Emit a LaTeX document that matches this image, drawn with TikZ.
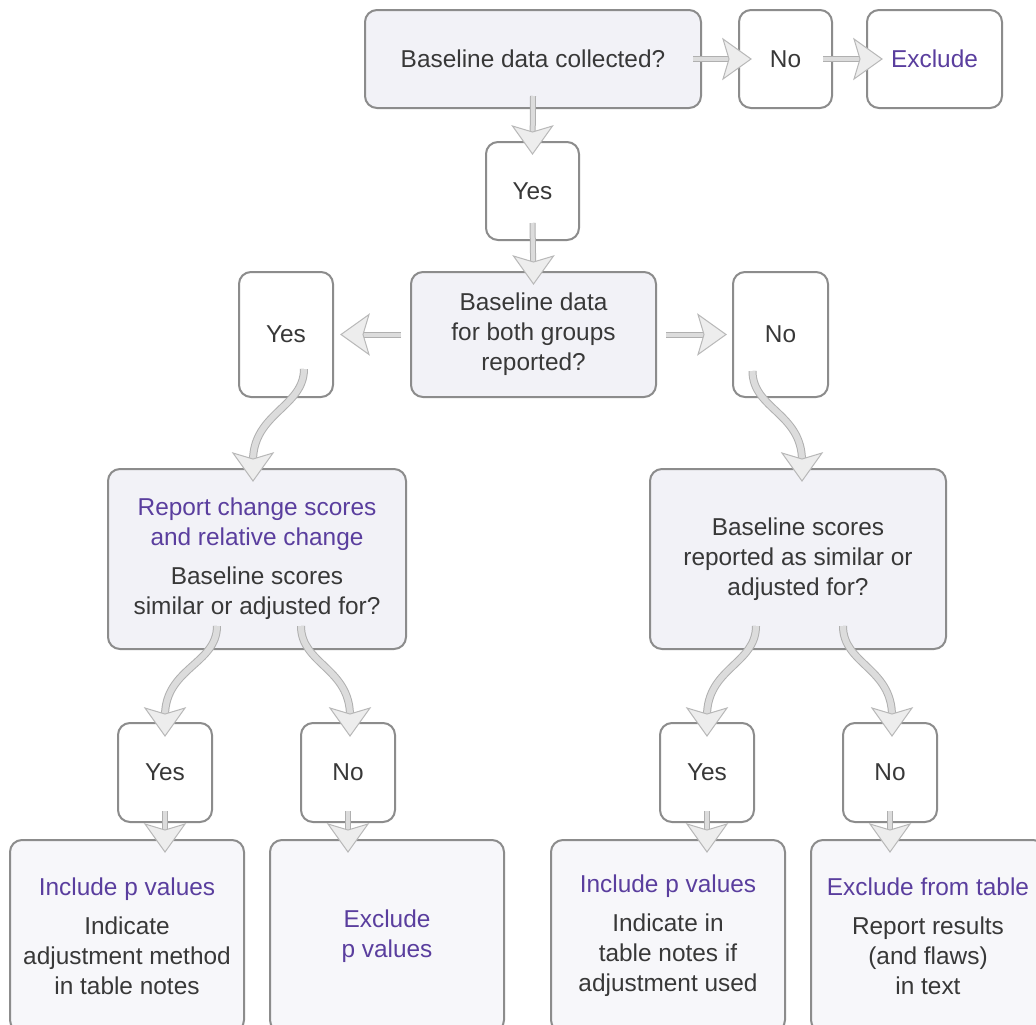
\documentclass[tikz,border=0pt]{standalone}
\usepackage{fontspec}
\setmainfont{Liberation Sans}
\usetikzlibrary{calc}
\definecolor{txt}{HTML}{383838}
\definecolor{purp}{HTML}{5A3E9E}
\definecolor{bord}{HTML}{8C8C8C}
\definecolor{lav}{HTML}{F2F2F7}
\definecolor{lav2}{HTML}{F7F7FA}
\definecolor{shaftb}{HTML}{B0B0B0}
\definecolor{shaftf}{HTML}{DCDCDC}
\definecolor{headf}{HTML}{EDEDED}
\definecolor{headb}{HTML}{B8B8B8}
\newcommand\sarr[3]{\draw[shaft] (#1) -- ($(#2)!15pt!(#1)$); \path (#2) pic[rotate=#3]{bhead};}
\newcommand\carr[2]{\draw[shaft, double distance=4.5pt] (#1) .. controls ($(#1)+(0,38)$) and ($(#2)+(0,-68)$) .. ($(#2)+(0,-20)$); \path (#2) pic[rotate=-90]{bhead};}
\begin{document}
\begin{tikzpicture}[x=0.75pt,y=-0.75pt,
 box/.style={draw=bord, line width=1.5pt, rounded corners=9pt, inner sep=0pt, align=center, text=txt, font=\fontsize{18.3}{22.5}\selectfont},
 sz/.style 2 args={minimum width=#1*0.75pt, minimum height=#2*0.75pt},
 qbox/.style={box, fill=lav},
 abox/.style={box, fill=white},
 rbox/.style={box, fill=lav2},
 shaft/.style={draw=shaftb, line width=0.75pt, double=shaftf, double distance=3pt},
 bhead/.pic={\filldraw[fill=headf, draw=headb, line width=0.75pt, line join=miter] (0,0) -- (-28,20) -- (-22,0) -- (-28,-20) -- cycle;}
]
\useasboundingbox (0,0) rectangle (1036,1025);
\clip (0,0) rectangle (1036,1025);
\fill[white] (0,0) rectangle (1036,1025);

\node[qbox, sz={336}{98}] (top) at (533,59) {Baseline data collected?};
\node[abox, sz={93}{98}] (no1) at (785.5,59) {No};
\node[abox, sz={135}{98}, text=purp] (excl) at (934.5,59) {Exclude};
\node[abox, sz={93}{98}] (yes1) at (532.5,191) {Yes};
\node[qbox, sz={245}{125}] (both) at (533.5,334.5) {Baseline data\\for both groups\\reported?};
\node[abox, sz={94}{125}] (yesL) at (286,334.5) {Yes};
\node[abox, sz={95}{125}] (noR) at (780.5,334.5) {No};
\node[qbox, sz={298}{180}] (rep) at (257,559) {\textcolor{purp}{Report change scores}\\\textcolor{purp}{and relative change}\\[6.75pt]Baseline scores\\similar or adjusted for?};
\node[qbox, sz={296}{180}] (bs) at (798,559) {Baseline scores\\reported as similar or\\adjusted for?};
\node[abox, sz={94}{99}] (yLL) at (165,772.5) {Yes};
\node[abox, sz={94}{99}] (nLR) at (348,772.5) {No};
\node[abox, sz={94}{99}] (yRL) at (707,772.5) {Yes};
\node[abox, sz={94}{99}] (nRR) at (890,772.5) {No};
\node[rbox, sz={234}{192}] (inc1) at (127,936) {\textcolor{purp}{Include p values}\\[6.75pt]Indicate\\adjustment method\\in table notes};
\node[rbox, sz={234}{192}, text=purp] (exp) at (387,936) {Exclude\\p values};
\node[rbox, sz={234}{192}] (inc2) at (668,936) {\textcolor{purp}{Include p values}\\[6.75pt]Indicate in\\table notes if\\adjustment used};
\node[rbox, sz={234}{192}] (exct) at (928,936) {\textcolor{purp}{Exclude from table}\\[6.75pt]Report results\\(and flaws)\\in text};

% connector end points
\coordinate (s1) at ($(top.south)+(0,-13)$);   \coordinate (t1) at ($(yes1.north)+(0,13)$);
\coordinate (s2) at ($(top.east)+(-9,0)$);     \coordinate (t2) at ($(no1.west)+(13,0)$);
\coordinate (s3) at ($(no1.east)+(-10,0)$);    \coordinate (t3) at ($(excl.west)+(16,0)$);
\coordinate (s4) at ($(yes1.south)+(0,-18)$);  \coordinate (t4) at ($(both.north)+(0,13)$);
\coordinate (s5) at ($(both.west)+(-9,0)$);    \coordinate (t5) at ($(yesL.east)+(7,0)$);
\coordinate (s6) at ($(both.east)+(9,0)$);     \coordinate (t6) at ($(noR.west)+(-6,0)$);
\coordinate (s7) at ($(yesL.south)+(18,-29)$); \coordinate (t7) at ($(rep.north)+(-4,13)$);
\coordinate (s8) at ($(noR.south)+(-28,-27)$); \coordinate (t8) at ($(bs.north)+(4,13)$);
\coordinate (s9) at ($(rep.south)+(-40,-24)$); \coordinate (t9) at ($(yLL.north)+(0,14)$);
\coordinate (s10) at ($(rep.south)+(44,-24)$); \coordinate (t10) at ($(nLR.north)+(2,14)$);
\coordinate (s11) at ($(bs.south)+(-42,-24)$); \coordinate (t11) at ($(yRL.north)+(0,14)$);
\coordinate (s12) at ($(bs.south)+(45,-24)$);  \coordinate (t12) at ($(nRR.north)+(2,14)$);
\coordinate (s13) at ($(yLL.south)+(0,-12)$);  \coordinate (t13) at ($(yLL.south |- inc1.north)+(0,13)$);
\coordinate (s14) at ($(nLR.south)+(0,-12)$);  \coordinate (t14) at ($(nLR.south |- exp.north)+(0,13)$);
\coordinate (s15) at ($(yRL.south)+(0,-12)$);  \coordinate (t15) at ($(yRL.south |- inc2.north)+(0,13)$);
\coordinate (s16) at ($(nRR.south)+(0,-12)$);  \coordinate (t16) at ($(nRR.south |- exct.north)+(0,13)$);

\sarr{s1}{t1}{-90}
\sarr{s2}{t2}{0}
\sarr{s3}{t3}{0}
\sarr{s4}{t4}{-90}
\sarr{s5}{t5}{180}
\sarr{s6}{t6}{0}
\carr{s7}{t7}
\carr{s8}{t8}
\carr{s9}{t9}
\carr{s10}{t10}
\carr{s11}{t11}
\carr{s12}{t12}
\sarr{s13}{t13}{-90}
\sarr{s14}{t14}{-90}
\sarr{s15}{t15}{-90}
\sarr{s16}{t16}{-90}
\end{tikzpicture}
\end{document}
